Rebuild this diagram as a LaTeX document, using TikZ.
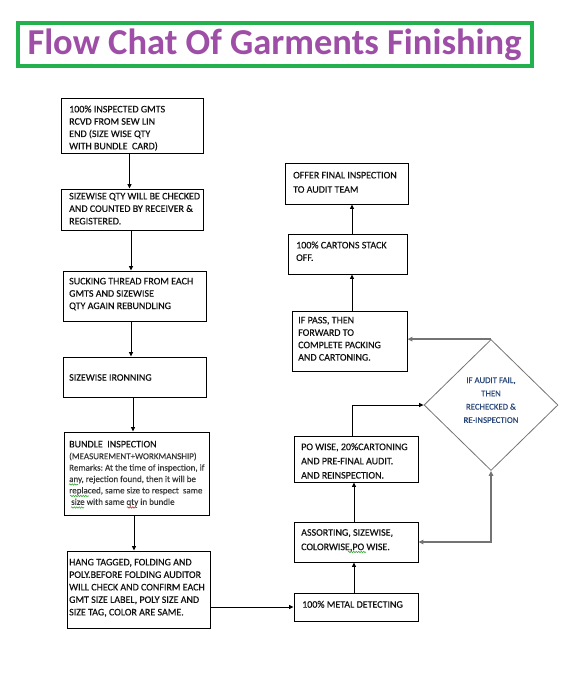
\documentclass[tikz,border=0pt]{standalone}
\usepackage{fontspec}
\setmainfont{Carlito}
\newfontfamily\boxfont{Carlito}[FakeBold=0.35]
\usetikzlibrary{shapes.geometric,arrows.meta,decorations.pathmorphing}
\definecolor{titlepurple}{RGB}{158,78,166}
\definecolor{titlegreen}{RGB}{34,177,76}
\definecolor{txtcol}{RGB}{15,15,15}
\definecolor{remcol}{RGB}{55,55,55}
\definecolor{diatxt}{RGB}{40,70,120}
\definecolor{graylin}{RGB}{115,115,115}
\definecolor{spgreen}{RGB}{60,170,60}
\definecolor{spred}{RGB}{220,40,40}
\newcommand\mkbox[5]{\node[stepbox,minimum width={#4-#2},minimum height={#5-#3}] (#1) at ({(#2+#4)/2},{(#3+#5)/2}) {};}
\begin{document}
\begin{tikzpicture}[x=1pt,y=-1pt,
  stepbox/.style={draw=black,line width=0.9pt,inner sep=0pt,rectangle},
  boxtext/.style={anchor=north west,inner sep=0pt,align=left,text=txtcol,font=\boxfont\fontsize{10}{#1}\selectfont},
  boxtext/.default=12.4,
  remtext/.style={anchor=north west,inner sep=0pt,align=left,text=remcol,font=\boxfont\fontsize{9}{11.4}\selectfont},
  arr/.style={draw=black,line width=0.9pt,-{Triangle[length=4.5pt,width=4pt]}},
  grayarr/.style={draw=graylin,line width=1.6pt,-{Triangle[length=5pt,width=4.5pt]}},
  squig/.style={line width=0.6pt,decorate,decoration={snake,amplitude=0.7pt,segment length=2.5pt}}]
\useasboundingbox (0,0) rectangle (575,687);

% title
\node[draw=titlegreen,line width=4pt,inner sep=0pt,minimum width=514,minimum height=42.7] (tbox) at (275,44.35) {};
\node[anchor=base,inner sep=0pt,text=titlepurple,font=\fontsize{36.5}{40}\selectfont\bfseries] (title) at (274.5,54.3) {Flow Chat Of Garments Finishing};

% left column boxes
\mkbox{b1}{61}{98}{203}{153}
\mkbox{b2}{61}{189}{203}{230}
\mkbox{b3}{63}{271}{206}{321}
\mkbox{b4}{63}{357}{206}{397}
\mkbox{b5}{64}{432}{209}{515}
\mkbox{b6}{67}{551}{210}{628}
% right column boxes
\mkbox{offer}{285}{163}{408}{204}
\mkbox{cartons}{288}{234}{407}{274}
\mkbox{ifpass}{292}{311}{407}{371}
\mkbox{po}{294}{436}{418}{482}
\mkbox{assort}{294}{522}{418}{562}
\mkbox{metal}{294}{593}{418}{621}
% decision
\node[diamond,draw=graylin,line width=0.8pt,inner sep=0pt,minimum width=134,minimum height=131] (dia) at (491,405) {};

% texts
\node[boxtext=12.3] (t1) at (69,104.2) {\rule{0pt}{8pt}100\% INSPECTED GMTS\\RCVD FROM SEW LIN\\END (SIZE WISE QTY\\WITH BUNDLE\ \ CARD)};
\node[boxtext=12.5] (t2) at (69,191.2) {\rule{0pt}{8pt}SIZEWISE QTY WILL BE CHECKED\\AND COUNTED\ BY\ RECEIVER \&\\REGISTERED.};
\node[boxtext=12.3] (t3) at (69,276.2) {\rule{0pt}{8pt}SUCKING\ THREAD FROM EACH\\GMTS AND SIZEWISE\\QTY AGAIN REBUNDLING};
\node[boxtext] (t4) at (69,372.5) {\rule{0pt}{8pt}SIZEWISE IRONNING};
\node[boxtext] (t5) at (69,439.2) {\rule{0pt}{8pt}BUNDLE\ \ INSPECTION};
\node[remtext] (t5b) at (69,451.5) {\rule{0pt}{7.5pt}(MEASUREMENT+WORKMANSHIP)\\Remarks:\ At the time of inspection, if\\any, rejection found, then it will be\\replaced, same size to respect\ \ same\\\ size with same qty in bundle};
\node[boxtext=12.5] (t6) at (69,557.2) {\rule{0pt}{8pt}HANG TAGGED,\ FOLDING AND\\POLY.BEFORE FOLDING AUDITOR\\WILL CHECK AND\ CONFIRM EACH\\GMT SIZE LABEL,\ POLY SIZE AND\\SIZE TAG, COLOR ARE SAME.};

\node[boxtext=14.3] (t7) at (293,170.2) {\rule{0pt}{8pt}OFFER FINAL INSPECTION\\TO AUDIT TEAM};
\node[boxtext=12.5] (t8) at (296,240.2) {\rule{0pt}{8pt}100\% CARTONS\ STACK\\OFF.};
\node[boxtext=12.4] (t9) at (298,315.2) {\rule{0pt}{8pt}IF PASS, THEN\\FORWARD TO\\COMPLETE PACKING\\AND CARTONING.};
\node[boxtext=14.2] (t10) at (301,441.9) {\rule{0pt}{8pt}PO WISE, 20\%CARTONING\\AND PRE-FINAL AUDIT.\\AND REINSPECTION.};
\node[boxtext=14.4] (t11) at (301,527.5) {\rule{0pt}{8pt}ASSORTING, SIZEWISE,\\COLORWISE,PO WISE.};
\node[boxtext] (t12) at (302,599.5) {\rule{0pt}{8pt}100\% METAL DETECTING};
\node[anchor=north,inner sep=0pt,align=center,text=diatxt,font=\boxfont\fontsize{8.75}{13.3}\selectfont] (t13) at (491,375.3) {\rule{0pt}{7.5pt}IF AUDIT FAIL,\\THEN\\RECHECKED \&\\RE-INSPECTION};

% spell-check marks
\draw[squig,spgreen] (69,484.5) -- (78,484.5);
\draw[squig,spgreen] (70,496) -- (89,496);
\draw[squig,spgreen] (71,507.5) -- (84,507.5);
\draw[squig,spred] (127,507.5) -- (137,507.5);
\draw[squig,spgreen] (348,552) -- (366,552);

% connectors left column
\draw[arr] ([xshift=-2.5pt]b1.south) -- ([xshift=-2.5pt]b1.south |- b2.north);
\draw[arr] ([xshift=-1pt]b2.south) -- ([xshift=-1pt]b2.south |- b3.north);
\draw[arr] ([xshift=-3.5pt]b3.south) -- ([xshift=-3.5pt]b3.south |- b4.north);
\draw[arr] ([xshift=-1.5pt]b4.south) -- ([xshift=-1.5pt]b4.south |- b5.north);
\draw[arr] ([xshift=-2.5pt]b5.south) -- ([xshift=-2.5pt]b5.south |- b6.north);
\draw[arr] (b6.east |- metal.west) -- (metal.west);
% connectors right column
\draw[arr] ([xshift=-2pt]metal.north) -- ([xshift=-2pt]metal.north |- assort.south);
\draw[arr] ([xshift=-2pt]assort.north) -- ([xshift=-2pt]assort.north |- po.south);
\draw[arr] ([xshift=-4pt]po.north) |- (dia.west);
\draw[arr] ([xshift=2.5pt]ifpass.north) -- ([xshift=2.5pt]ifpass.north |- cartons.south);
\draw[arr] ([xshift=4.5pt]cartons.north) -- ([xshift=4.5pt]cartons.north |- offer.south);
\draw[grayarr] (dia.north) -- (dia.north -| ifpass.east);
\draw[grayarr,{Triangle[length=5pt,width=4.5pt]}-{Triangle[length=5pt,width=4.5pt]}] (assort.east) -- (assort.east -| dia.south) -- (dia.south);
\end{tikzpicture}
\end{document}
